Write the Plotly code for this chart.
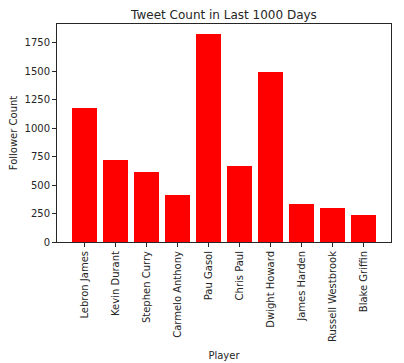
import plotly.graph_objects as go

players = ["Lebron James", "Kevin Durant", "Stephen Curry", "Carmelo Anthony", "Pau Gasol",
           "Chris Paul", "Dwight Howard", "James Harden", "Russell Westbrook", "Blake Griffin"]
counts = [1177, 722, 616, 414, 1822, 669, 1488, 334, 299, 238]
y_ticks = [0, 250, 500, 750, 1000, 1250, 1500, 1750]

fig = go.Figure(go.Bar(x=list(range(len(players))), y=counts, width=0.8,
                       marker=dict(color="#ff0000", line=dict(width=0))))

# page body has an 8px default margin, so the figure is sized/offset to compensate
font = dict(family="DejaVu Sans", size=10, color="#262626")
fig.update_layout(
    template="none",
    width=396, height=355,
    margin=dict(l=49, r=13, t=16, b=121, autoexpand=False),
    paper_bgcolor="white", plot_bgcolor="white",
    font=font,
    title=dict(text="Tweet Count in Last 1000 Days", x=0.5, xref="paper", xanchor="center",
               y=0.982, yref="container", yanchor="middle", pad=dict(t=0, b=0),
               font=dict(family="DejaVu Sans", size=12, color="#262626")),
    showlegend=False,
    bargap=0,
)
fig.update_xaxes(
    automargin=False,
    range=[-0.89, 9.89], tickmode="array", tickvals=list(range(len(players))), ticktext=players,
    tickangle=-90, ticks="outside", ticklen=4, tickcolor="#262626", showgrid=False, zeroline=False,
    showline=True, linecolor="#262626", linewidth=1, mirror=True,
    title=dict(text="Player", font=font, standoff=10),
)
fig.update_yaxes(
    automargin=False,
    range=[0, 1913], tickmode="array", tickvals=y_ticks,
    ticks="outside", ticklen=4, tickcolor="#262626", showgrid=False, zeroline=False,
    showline=True, linecolor="#262626", linewidth=1, mirror=True,
    title=dict(text="Follower Count", font=font, standoff=8),
)
fig.write_html("out.html")
